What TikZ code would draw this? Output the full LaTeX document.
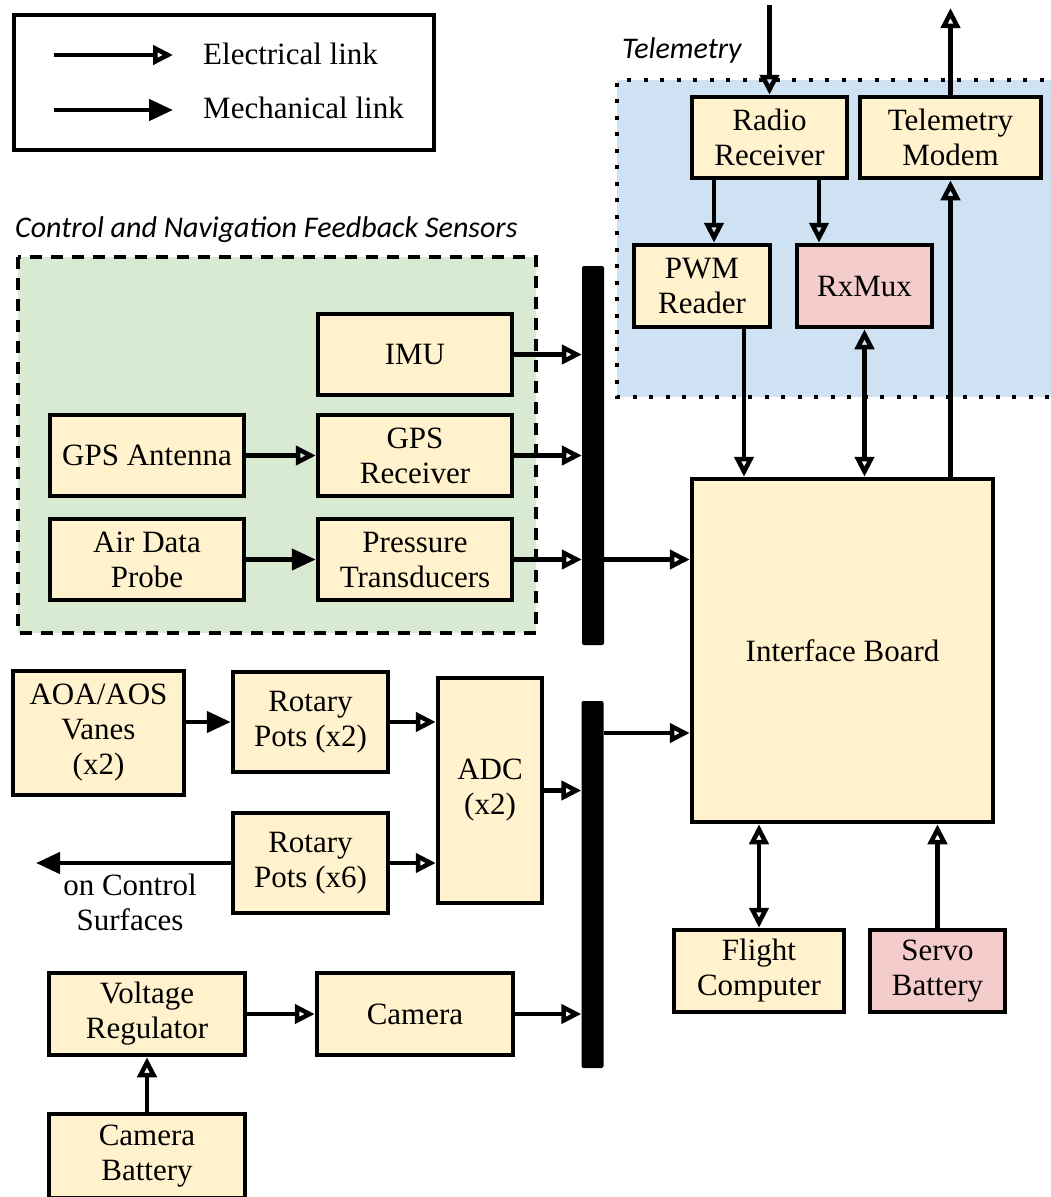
\documentclass[tikz,border=0pt]{standalone}
\usepackage{fontspec}
\setmainfont{Liberation Serif}
\newfontfamily\titlefont{Carlito}
\usetikzlibrary{arrows.meta, calc}
\definecolor{boxyellow}{HTML}{FFF2CC}
\definecolor{boxpink}{HTML}{F4CCCC}
\definecolor{telblue}{HTML}{CFE2F3}
\definecolor{sensgreen}{HTML}{D9EAD3}
\tikzset{
  blk/.style={
    draw=black, line width=4.5pt,   % box border
    fill=boxyellow, inner sep=0pt,
    align=center, font=\fontsize{31}{35}\selectfont
  },
  blkpink/.style={blk, fill=boxpink},
  bus/.style={fill=black, rounded corners=2pt, inner sep=0pt, minimum width=22pt},
  elec/.style={line width=4.5pt, -{Triangle[open,length=20pt,width=19pt]}},
  elecboth/.style={line width=4.5pt, {Triangle[open,length=20pt,width=19pt]}-{Triangle[open,length=20pt,width=19pt]}},
  mech/.style={line width=4.5pt, -{Triangle[length=24pt,width=21pt]}},
  grouptitle/.style={font=\titlefont\itshape\fontsize{30}{35}\selectfont, anchor=west, inner sep=0pt}
}

\begin{document}
\begin{tikzpicture}[x=1pt, y=-1pt]
    \useasboundingbox (0,0) rectangle (1051,1197);

    % Legend
    \draw[line width=4.5pt] (14,15) rectangle (434,150);
    \coordinate (le1) at (54,55);  \coordinate (le2) at (173,55);
    \coordinate (lm1) at (54,110); \coordinate (lm2) at (173,110);
    \draw[elec] (le1) -- (le2);
    \draw[mech] (lm1) -- (lm2);
    \node[anchor=west, inner sep=0pt, font=\fontsize{31}{35}\selectfont] (letext) at (203,54) {Electrical link};
    \node[anchor=west, inner sep=0pt, font=\fontsize{31}{35}\selectfont] (lmtext) at (203,108) {Mechanical link};

    % Group backgrounds
    \fill[telblue] (617,80) rectangle (1060,397);
    \draw[line width=4.5pt, dash pattern=on 4pt off 12.5pt] (1060,80) -- (617,80) -- (617,397) -- (1060,397);
    \node[grouptitle] (teltitle) at (622,50) {Telemetry};

    \fill[sensgreen] (18,257) rectangle (536,633);
    \draw[line width=4pt, dash pattern=on 12pt off 9pt] (18,257) rectangle (536,633);
    \node[grouptitle] (senstitle) at (15,230) {Control and Navigation Feedback Sensors};

    % Sensors
    \node[blk, minimum width=194pt, minimum height=81pt] (imu) at (415,354.5) {IMU};
    \node[blk, minimum width=194pt, minimum height=81pt] (gpsrcv) at (415,455.5) {GPS\\Receiver};
    \node[blk, minimum width=194pt, minimum height=81pt] (pt) at (415,559.5) {Pressure\\Transducers};
    \node[blk, minimum width=194pt, minimum height=81pt] (gpsant) at (147,455.5) {GPS Antenna};
    \node[blk, minimum width=194pt, minimum height=81pt] (adp) at (147,559.5) {Air Data\\Probe};

    % Buses
    \node[bus, minimum height=379pt] (bus1) at (593,455.5) {};
    \node[bus, minimum height=367pt] (bus2) at (592.5,884.5) {};

    % Vanes, pots and ADC
    \node[blk, minimum width=171pt, minimum height=124pt] (aoa) at (98.5,733) {AOA/AOS\\Vanes\\(x2)};
    \node[blk, minimum width=155pt, minimum height=100pt] (rp2) at (310.5,722) {Rotary\\Pots (x2)};
    \node[blk, minimum width=155pt, minimum height=100pt] (rp6) at (310.5,863) {Rotary\\Pots (x6)};
    \node[blk, minimum width=104pt, minimum height=225pt] (adc) at (490,790.5) {ADC\\(x2)};
    \coordinate (ctrl) at (36,863);
    \node[align=center, inner sep=0pt, font=\fontsize{31}{35}\selectfont] (ctrltext) at (130,902) {on Control\\Surfaces};

    % Camera chain
    \node[blk, minimum width=196pt, minimum height=82pt] (vr) at (147,1014) {Voltage\\Regulator};
    \node[blk, minimum width=196pt, minimum height=82pt] (cam) at (415,1014) {Camera};
    \node[blk, minimum width=196pt, minimum height=84pt] (cb) at (147,1156) {Camera\\Battery};

    % Telemetry
    \node[blk, minimum width=155pt, minimum height=81pt] (rr) at (769.5,137.5) {Radio\\Receiver};
    \node[blk, minimum width=181pt, minimum height=81pt] (tm) at (950.5,137.5) {Telemetry\\Modem};
    \node[blk, minimum width=136pt, minimum height=82pt] (pwm) at (702,286) {PWM\\Reader};
    \node[blkpink, minimum width=135pt, minimum height=82pt] (rxmux) at (864.5,286) {RxMux};
    \coordinate (rrin) at (769.5,5);
    \coordinate (tmout) at (950.5,8);

    % Interface board and below
    \node[blk, minimum width=301pt, minimum height=343pt] (ib) at (842.5,650.5) {Interface Board};
    \node[blk, minimum width=170pt, minimum height=82pt] (fc) at (759,971) {Flight\\Computer};
    \node[blkpink, minimum width=135pt, minimum height=82pt] (sb) at (937.5,971) {Servo\\Battery};

    % Links in the sensor group
    \draw[elec] (gpsant) -- (gpsrcv);
    \draw[mech] (adp) -- (pt);
    \draw[elec] (imu.east) -- (imu.east -| bus1.west);
    \draw[elec] (gpsrcv.east) -- (gpsrcv.east -| bus1.west);
    \draw[elec] (pt.east) -- (pt.east -| bus1.west);
    \draw[elec] (pt.east -| bus1.east) -- (pt.east -| ib.west);

    % Links of the lower left
    \draw[mech] (rp2.west -| aoa.east) -- (rp2.west);
    \draw[elec] (rp2.east) -- (rp2.east -| adc.west);
    \draw[elec] (rp6.east) -- (rp6.east -| adc.west);
    \draw[mech] (rp6.west) -- (ctrl);
    \draw[elec] (adc.east) -- (adc.east -| bus2.west);
    \draw[elec] (vr) -- (cam);
    \draw[elec] (cam.east) -- (cam.east -| bus2.west);
    \draw[elec] (cb) -- (vr);
    \draw[elec] (aoa.east -| bus2.east) -- (aoa.east -| ib.west);

    % Telemetry links
    \draw[elec] (rrin) -- (rr.north);
    \draw[elec] (tm.north) -- (tmout);
    \draw[elec] ([xshift=12pt]pwm.north |- rr.south) -- ([xshift=12pt]pwm.north);
    \draw[elec] ([xshift=-45.5pt]rxmux.north |- rr.south) -- ([xshift=-45.5pt]rxmux.north);
    \draw[elec] ([xshift=42pt]pwm.south) -- ([xshift=42pt]pwm.south |- ib.north);
    \draw[elecboth] (rxmux.south) -- (rxmux.south |- ib.north);
    \draw[elec] (tm.south |- ib.north) -- (tm.south);

    % Below the interface board
    \draw[elecboth] (fc.north) -- (fc.north |- ib.south);
    \draw[elec] (sb.north) -- (sb.north |- ib.south);
\end{tikzpicture}
\end{document}
